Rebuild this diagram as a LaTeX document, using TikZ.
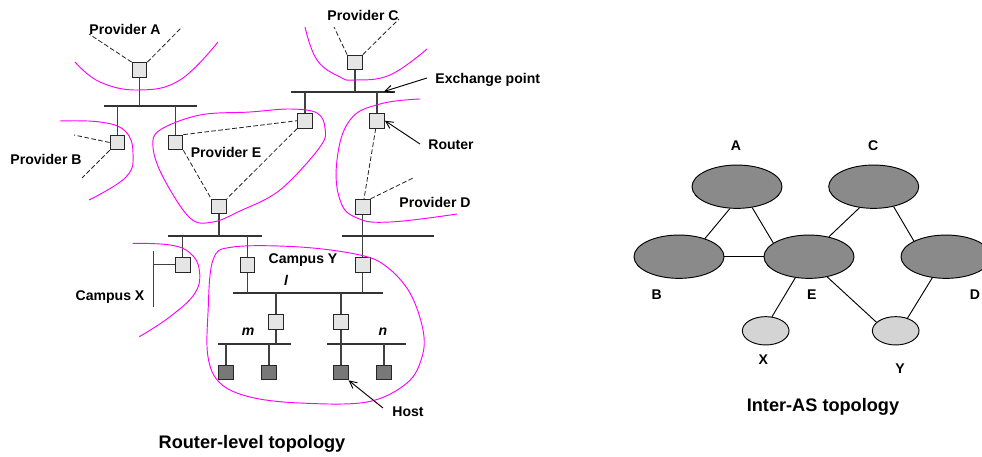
\documentclass[tikz,border=0pt]{standalone}
\usepackage{fontspec}
\setmainfont{Liberation Sans}
\usetikzlibrary{positioning, arrows.meta, shapes.geometric}
\definecolor{asmagenta}{RGB}{255,0,255}

\begin{document}
\begin{tikzpicture}[
    x=0.03cm, y=-0.03cm,
    font=\bfseries\fontsize{12}{14}\selectfont,
    % one style per kind of element
    router/.style = {draw=black!85, line width=0.9pt, fill=black!10, minimum size=4.4mm, inner sep=0pt},
    host/.style   = {router, fill=black!53},
    bus/.style    = {draw=black!80, line width=1.7pt},
    drop/.style   = {draw=black!75, line width=1.3pt},
    link/.style   = {draw=black!85, line width=0.7pt, dash pattern=on 4pt off 2pt},
    border/.style = {draw=asmagenta, line width=0.8pt},
    pointer/.style= {draw=black, line width=0.8pt, -{Straight Barb[length=2.2mm, width=2.2mm]}},
    title/.style  = {font=\bfseries\fontsize{15.5}{18}\selectfont},
    as/.style     = {ellipse, draw=black, line width=0.8pt, fill=black!46, minimum width=2.7cm, minimum height=1.3cm},
    stubas/.style = {as, fill=black!17, minimum width=1.4cm, minimum height=0.85cm},
    peering/.style= {draw=black, line width=0.8pt},
  ]
  \useasboundingbox (0,0) rectangle (982,457);

  %% ---------- left: router-level topology ----------
  % bus end points
  \coordinate (busA-w) at (104,106);   \coordinate (busA-e) at (197,106);
  \coordinate (busX-w) at (291,92);    \coordinate (busX-e) at (395,92);
  \coordinate (busE-w) at (168,236);   \coordinate (busE-e) at (262,236);
  \coordinate (busD-w) at (342,236);   \coordinate (busD-e) at (434,236);
  \coordinate (busL-w) at (233,293.3); \coordinate (busL-e) at (383,293.3);
  \coordinate (busM-w) at (218,344);   \coordinate (busM-e) at (291,344);
  \coordinate (busN-w) at (327,344);   \coordinate (busN-e) at (406,344);
  \coordinate (barX-n) at (153.7,251); \coordinate (barX-s) at (153.7,307);

  % routers and hosts
  \node[router] (rA)  at (139.5,70)    {};
  \node[router] (rB)  at (117.5,142.5) {};
  \node[router] (rE1) at (175.5,142.5) {};
  \node[router] (rE2) at (305,120.7)   {};
  \node[router] (rE3) at (219,206.5)   {};
  \node[router] (rC)  at (355,62.5)    {};
  \node[router] (rD1) at (377,120.7)   {};
  \node[router] (rD2) at (362.7,206.7) {};
  \node[router] (rX)  at (182.7,264.7) {};
  \node[router] (rY1) at (247.5,264.7) {};
  \node[router] (rY2) at (362.7,264.7) {};
  \node[router] (rm)  at (276,322.2)   {};
  \node[router] (rn)  at (340.8,322.2) {};
  \node[host] (h1) at (225.8,372.5) {};
  \node[host] (h2) at (269.2,372.5) {};
  \node[host] (h3) at (340.8,372.5) {};
  \node[host] (h4) at (384.2,372.5) {};

  \foreach \b in {busA, busX, busE, busD, busL, busM, busN}
    \draw[bus] (\b-w) -- (\b-e);
  \draw[drop] (barX-n) -- (barX-s);

  % drops between routers and buses
  \draw[drop] (rA) -- (rA |- busA-w);
  \draw[drop] (rB |- busA-w) -- (rB);
  \draw[drop] (rE1 |- busA-w) -- (rE1);
  \draw[drop] (rC) -- (rC |- busX-w);
  \draw[drop] (rE2 |- busX-w) -- (rE2);
  \draw[drop] (rD1 |- busX-w) -- (rD1);
  \draw[drop] (rE3) -- (rE3 |- busE-w);
  \draw[drop] (rD2) -- (rD2 |- busD-w);
  \draw[drop] (rX |- busE-w) -- (rX);
  \draw[drop] (rX) -- (rX -| barX-n);
  \draw[drop] (rY1 |- busE-w) -- (rY1);
  \draw[drop] (rY1) -- (rY1 |- busL-w);
  \draw[drop] (rY2 |- busD-w) -- (rY2);
  \draw[drop] (rY2) -- (rY2 |- busL-w);
  \draw[drop] (rm |- busL-w) -- (rm);
  \draw[drop] (rm) -- (rm |- busM-w);
  \draw[drop] (rn |- busL-w) -- (rn);
  \draw[drop] (rn) -- (rn |- busN-w);
  \foreach \h in {h1, h2}
    \draw[drop] (\h |- busM-w) -- (\h);
  \foreach \h in {h3, h4}
    \draw[drop] (\h |- busN-w) -- (\h);

  % links leaving towards the providers
  \coordinate (sA1) at (89,34);  \coordinate (sA2) at (182,27);
  \coordinate (sB1) at (74,135); \coordinate (sB2) at (82,178);
  \coordinate (sC1) at (334,27); \coordinate (sC2) at (399,19);
  \coordinate (sD)  at (413,178);
  \draw[link] (rA.north west) -- (sA1);
  \draw[link] (rA.north east) -- (sA2);
  \draw[link] (rB.west) -- (sB1);
  \draw[link] (rB.south west) -- (sB2);
  \draw[link] (rC.north west) -- (sC1);
  \draw[link] (rC.north east) -- (sC2);
  \draw[link] (rD2.north east) -- (sD);
  \draw[link] (rE1.north east) -- (rE2.west);
  \draw[link] (rE1.south east) -- (rE3.north west);
  \draw[link] (rE2.south west) -- (rE3.north east);
  \draw[link] (rD1) -- (rD2);

  % domain boundaries
  \draw[border] plot[smooth, tension=0.7] coordinates {(75,62) (100,82) (139,90) (180,80) (218,42)};
  \draw[border] plot[smooth, tension=0.7] coordinates {(60,121) (100,122) (125,131) (133,153) (126,177) (89,200)};
  \draw[border] plot[smooth, tension=0.7] coordinates {(305,27) (317,60) (340,77) (355,80) (390,75) (427,49)};
  \draw[border] plot[smooth, tension=0.7] coordinates {(420,99) (380,104) (350,120) (337,160) (340,200) (357,218) (390,222) (457,214)};
  \draw[border] plot[smooth cycle, tension=0.6] coordinates {(250,112) (290,109) (317,113) (325,128) (320,147) (280,190) (240,211) (213,222) (190,218) (163,177) (153,147) (160,130) (200,115)};
  \draw[border] plot[smooth, tension=0.7] coordinates {(132.7,243.3) (170,245) (190,253) (199.3,270) (195,293) (170,316.7) (139.3,336.7)};
  \draw[border] plot[smooth cycle, tension=0.6] coordinates {(233,247) (300,247) (360,255) (387,267) (410,293) (423,330) (422,357) (407,383) (367,402) (300,403) (250,397) (220,383) (208,357) (208,313) (213,260)};

  % labels
  \node (pA) at (125,29)  {Provider A};
  \node (pB) at (46,159)  {Provider B};
  \node (pC) at (363,15)  {Provider C};
  \node (pE) at (226,152) {Provider E};
  \node (pD) at (435,202) {Provider D};
  \node (campX) at (110,297) {Campus X};
  \node (campY) at (303,260) {Campus Y};
  \node (netl) at (286,280) {\itshape l};
  \node (netm) at (248,332) {\itshape m};
  \node (netn) at (383,332) {\itshape n};
  \node[anchor=west, inner sep=1pt] (xpt) at (434,80) {Exchange point};
  \node[anchor=west, inner sep=1pt] (rtr) at (427,145) {Router};
  \node[anchor=west, inner sep=1pt] (hst) at (391,412) {Host};
  \coordinate (xbus) at (384,91.5);
  \coordinate (xtail) at (427,78);
  \coordinate (rtail) at (420,144);
  \coordinate (htail) at (383,408);
  \draw[pointer] (xtail) -- (xbus);
  \draw[pointer] (rtail) -- (rD1.east);
  \draw[pointer] (htail) -- (h3.south east);

  \node[title] (ttlL) at (252,444) {Router-level topology};

  %% ---------- right: inter-AS topology ----------
  \node[as] (A) at (737,186.7) {};
  \node[as] (C) at (873.7,186.7) {};
  \node[as] (B) at (679,256.7) {};
  \node[as] (E) at (809,256.7) {};
  \node[as] (D) at (946,256.7) {};
  \node[stubas] (X) at (765.7,330.8) {};
  \node[stubas] (Y) at (895.7,330.8) {};

  \node (lA) at (736,146)   {A};
  \node (lC) at (873.3,146) {C};
  \node (lB) at (656.7,295) {B};
  \node (lE) at (811.7,295) {E};
  \node (lD) at (975,295)   {D};
  \node (lX) at (763.3,360) {X};
  \node (lY) at (900,368.3) {Y};

  \draw[peering] (B.35)   -- (A.-108);
  \draw[peering] (A.-54)  -- (E.159);
  \draw[peering] (B.east) -- (E.west);
  \draw[peering] (C.-124) -- (E.45);
  \draw[peering] (C.-45)  -- (D.154);
  \draw[peering] (E.-123) -- (X.66);
  \draw[peering] (E.-48)  -- (Y.156);
  \draw[peering] (D.-123) -- (Y.47);

  \node[title] (ttlR) at (823,407) {Inter-AS topology};
\end{tikzpicture}
\end{document}
